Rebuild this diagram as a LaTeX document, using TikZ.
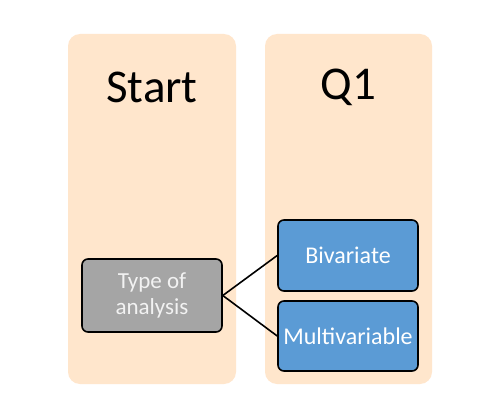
\documentclass[tikz,border=0pt]{standalone}
\usepackage{fontspec}
\setmainfont{Carlito}
\begin{document}
\begin{tikzpicture}[x=1pt,y=-1pt,
  panel/.style={fill=peach,draw=none,rounded corners=12pt},
  box/.style={draw=black,line width=1.6pt,rounded corners=6pt,font=\fontsize{24}{26}\selectfont,text=white,align=center},
  title/.style={font=\fontsize{47}{50}\selectfont,text=black}]
\definecolor{peach}{HTML}{FFE6CC}
\definecolor{graybox}{HTML}{A5A5A5}
\definecolor{bluebox}{HTML}{5B9BD5}
\definecolor{graytext}{HTML}{F2F2F2}
\useasboundingbox (0,0) rectangle (487,417);
\fill[white] (0,0) rectangle (487,417);
\node[panel,minimum width=168pt,minimum height=350pt] (p1) at (152,209) {};
\node[panel,minimum width=167pt,minimum height=350pt] (p2) at (348.5,209) {};
\node[title] (t1) at (152,87) {Start};
\node[title] (t2) at (348.5,87) {Q1};
\node[box,fill=graybox,text=graytext,minimum width=140pt,minimum height=73pt,font=\fontsize{23}{26}\selectfont] (a) at (152,295.5) {Type of\\analysis};
\node[box,fill=bluebox,minimum width=140pt,minimum height=71pt] (b) at (348,255.5) {Bivariate};
\node[box,fill=bluebox,minimum width=140pt,minimum height=70pt,inner sep=1pt] (c) at (348,336) {Multivariable};
\draw[line width=1.6pt] (a.east) -- (b.west);
\draw[line width=1.6pt] (a.east) -- (c.west);
\end{tikzpicture}
\end{document}
